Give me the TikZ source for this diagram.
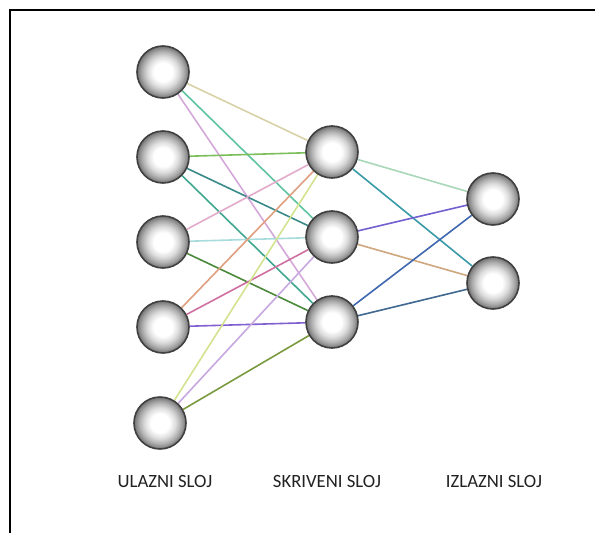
\documentclass[tikz,border=0pt]{standalone}
\usepackage{fontspec}
\setmainfont{Carlito}
\pgfdeclareradialshading{sphereshade}{\pgfpoint{0bp}{0bp}}{%
  color(0bp)=(white);
  color(9bp)=(white);
  color(15bp)=(black!14);
  color(20bp)=(black!32);
  color(25bp)=(black!55);
  color(50bp)=(black!55)}
\definecolor{cA}{HTML}{D9D2A8}
\definecolor{cB}{HTML}{5FC4A0}
\definecolor{cC}{HTML}{D4A8D8}
\definecolor{cD}{HTML}{7CBF5A}
\definecolor{cE}{HTML}{3A8A8A}
\definecolor{cF}{HTML}{40A890}
\definecolor{cG}{HTML}{E2AACB}
\definecolor{cH}{HTML}{A8DCDC}
\definecolor{cI}{HTML}{4A8A3A}
\definecolor{cJ}{HTML}{E0A080}
\definecolor{cK}{HTML}{D070A0}
\definecolor{cL}{HTML}{8060D0}
\definecolor{cM}{HTML}{D3E38F}
\definecolor{cN}{HTML}{C8A8E0}
\definecolor{cO}{HTML}{7A9A40}
\definecolor{cP}{HTML}{A8D8B8}
\definecolor{cQ}{HTML}{3A9AA8}
\definecolor{cR}{HTML}{7060D0}
\definecolor{cS}{HTML}{D0A880}
\definecolor{cT}{HTML}{4068B0}
\definecolor{cU}{HTML}{406890}
\definecolor{labelgray}{HTML}{222222}
\pgfdeclarelayer{paper}
\pgfdeclarelayer{edges}
\pgfsetlayers{paper,edges,main}
\begin{document}
\begin{tikzpicture}[x=1pt,y=-1pt,
  neuron/.style={circle,minimum size=52pt,inner sep=0pt,draw=black!75,line width=1.6pt,shading=sphereshade},
  link/.style={line width=1.6pt},
  layerlabel/.style={anchor=base,font=\fontsize{18.7}{20}\selectfont,text=labelgray,inner sep=0pt}]
\useasboundingbox (0,0) rectangle (595,533);
\begin{pgfonlayer}{paper}
\fill[white] (0,0) rectangle (595,533);
\draw[line width=2pt] (10,540) -- (10,10) -- (600,10);
\end{pgfonlayer}

\node[neuron] (i1) at (163,72) {};
\node[neuron] (i2) at (163,157) {};
\node[neuron] (i3) at (163,242) {};
\node[neuron] (i4) at (163,327) {};
\node[neuron] (i5) at (160,423) {};
\node[neuron] (h1) at (332,152) {};
\node[neuron] (h2) at (332,237) {};
\node[neuron] (h3) at (332,322) {};
\node[neuron] (o1) at (493,199) {};
\node[neuron] (o2) at (493,283) {};

\begin{pgfonlayer}{edges}
\draw[link,cA] (i1) -- (h1);
\draw[link,cB] (i1) -- (h2);
\draw[link,cC] (i1) -- (h3);
\draw[link,cD] (i2) -- (h1);
\draw[link,cE] (i2) -- (h2);
\draw[link,cF] (i2) -- (h3);
\draw[link,cG] (i3) -- (h1);
\draw[link,cH] (i3) -- (h2);
\draw[link,cI] (i3) -- (h3);
\draw[link,cJ] (i4) -- (h1);
\draw[link,cK] (i4) -- (h2);
\draw[link,cL] (i4) -- (h3);
\draw[link,cM] (i5) -- (h1);
\draw[link,cN] (i5) -- (h2);
\draw[link,cO] (i5) -- (h3);
\draw[link,cP] (h1) -- (o1);
\draw[link,cQ] (h1) -- (o2);
\draw[link,cR] (h2) -- (o1);
\draw[link,cS] (h2) -- (o2);
\draw[link,cT] (h3) -- (o1);
\draw[link,cU] (h3) -- (o2);
\end{pgfonlayer}

\node[layerlabel] (l1) at (165,487) {ULAZNI SLOJ};
\node[layerlabel] (l2) at (327,487) {SKRIVENI SLOJ};
\node[layerlabel] (l3) at (494,487) {IZLAZNI SLOJ};
\end{tikzpicture}
\end{document}
